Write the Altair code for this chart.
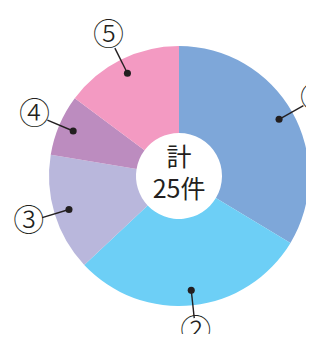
import altair as alt
import numpy as np
import pandas as pd

# ---- data ----
labels = ["①", "②", "③", "④", "⑤"]
values = [8.4, 7.35, 3.65, 1.9, 3.7]          # 計25件
colors = ["#7ea7d9", "#6dcff6", "#b9b7dc", "#bc8cbf", "#f39ac2"]
center_text = ["計", "25件"]

W, H = 298, 326
CX, CY = 171, 168          # pie centre inside the view
R_OUT, R_IN = 130, 43
R_DOT, R_LINE, R_LAB = 115, 143, 157

total = float(sum(values))
cum = np.cumsum(values)
mid = (cum - np.array(values) / 2) / total * 2 * np.pi

df = pd.DataFrame({
    "label": labels,
    "value": values,
    "idx": list(range(len(labels))),
    "dot_x": R_DOT * np.sin(mid), "dot_y": R_DOT * np.cos(mid),
    "end_x": R_LINE * np.sin(mid), "end_y": R_LINE * np.cos(mid),
    "lab_x": R_LAB * np.sin(mid), "lab_y": R_LAB * np.cos(mid),
})

xs = alt.Scale(domain=[-CX, W - CX])
ys = alt.Scale(domain=[-(H - CY), CY])

base = alt.Chart(df)

pie = base.mark_arc(outerRadius=R_OUT, innerRadius=R_IN, x=CX, y=CY, stroke=None).encode(
    theta=alt.Theta("value:Q", stack=True),
    order=alt.Order("idx:Q"),
    color=alt.Color("label:N", scale=alt.Scale(domain=labels, range=colors), legend=None),
)

lines = base.mark_rule(color="#231f20", strokeWidth=1.4).encode(
    x=alt.X("dot_x:Q", scale=xs, axis=None),
    y=alt.Y("dot_y:Q", scale=ys, axis=None),
    x2="end_x:Q", y2="end_y:Q",
)

dots = base.mark_circle(color="#231f20", opacity=1, size=50).encode(
    x=alt.X("dot_x:Q", scale=xs, axis=None),
    y=alt.Y("dot_y:Q", scale=ys, axis=None),
)

labs = base.mark_text(font="Noto Sans CJK JP", fontSize=31, fontWeight=300, color="#231f20",
                      align="center", baseline="middle").encode(
    x=alt.X("lab_x:Q", scale=xs, axis=None),
    y=alt.Y("lab_y:Q", scale=ys, axis=None),
    text="label:N",
)

ctr_df = pd.DataFrame({"t": center_text, "yy": [150, 182]})
ctr = alt.Chart(ctr_df).mark_text(font="Noto Sans CJK JP", fontSize=25, color="#231f20",
                                  align="center", baseline="middle").encode(
    x=alt.value(CX),
    y=alt.Y("yy:Q", scale=None),
    text="t:N",
)

chart = alt.layer(pie, lines, dots, labs, ctr).properties(
    width=W, height=H, padding=0,
    autosize=alt.AutoSizeParams(type="none"),
).configure_view(stroke=None)

chart.save("out.html", embed_options={"renderer": "svg", "actions": False})
